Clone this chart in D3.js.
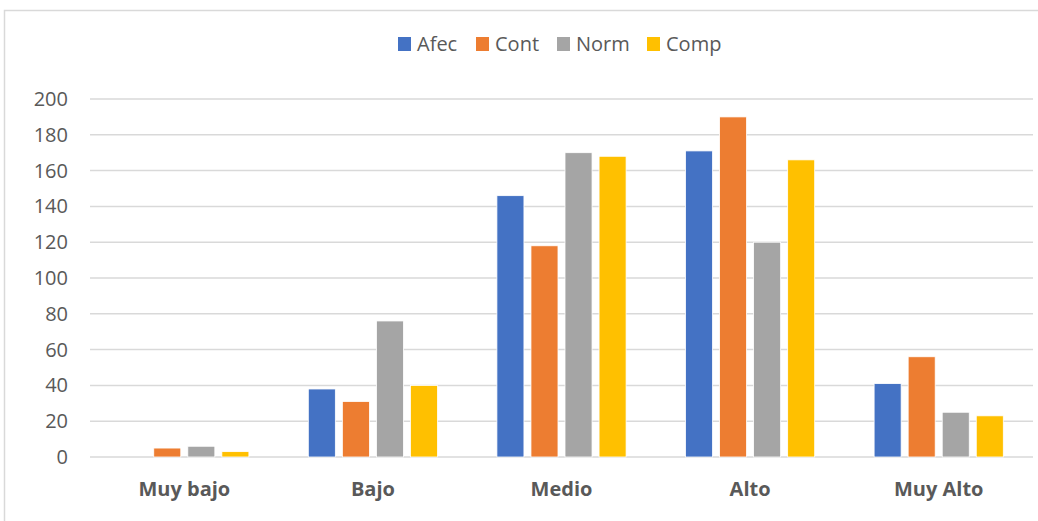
<!DOCTYPE html>
<html>
<head>
<meta charset="utf-8">
<script src="https://cdn.jsdelivr.net/npm/d3@7"></script>
<style>
  body { margin: 0; background: #fff; }
  svg text { font-family: "Open Sans", "Liberation Sans", sans-serif; fill: #595959; }
</style>
</head>
<body>
<div id="chart"></div>
<script>
// data
const categories = ["Muy bajo", "Bajo", "Medio", "Alto", "Muy Alto"];
const seriesNames = ["Afec", "Cont", "Norm", "Comp"];
const afec = [0, 38, 146, 171, 41];
const cont = [5, 31, 118, 190, 56];
const norm = [6, 76, 170, 120, 25];
const comp = [3, 40, 168, 166, 23];
const yTicks = [0, 20, 40, 60, 80, 100, 120, 140, 160, 180, 200];
const colors = ["#4472c4", "#ed7d31", "#a5a5a5", "#ffc000"];

const values = [afec, cont, norm, comp];

const width = 1038, height = 521;
const plot = { left: 90, right: 1033, top: 99, bottom: 457 };

const svg = d3.select("#chart").append("svg")
    .attr("width", width)
    .attr("height", height);

// outer chart frame
svg.append("rect")
    .attr("x", 4.5).attr("y", 10.5)
    .attr("width", width + 10).attr("height", height + 10)
    .attr("fill", "#fff")
    .attr("stroke", "#d9d9d9")
    .attr("stroke-width", 1.5);

let x0 = d3.scaleBand().domain(categories).range([plot.left, plot.right]).padding(0);
let groupW = x0.bandwidth() * 0.685;
let x1 = d3.scaleBand().domain(seriesNames).range([0, groupW]).paddingInner(0.206).paddingOuter(0);
let y = d3.scaleLinear().domain([0, 200]).range([plot.bottom, plot.top]);

// gridlines
svg.append("g").selectAll("line").data(yTicks).join("line")
    .attr("x1", plot.left).attr("x2", plot.right)
    .attr("y1", d => y(d)).attr("y2", d => y(d))
    .attr("stroke", "#d9d9d9")
    .attr("stroke-width", 1.5);

// y axis labels
let yAxis = svg.append("g").attr("transform", `translate(${plot.left - 22},0)`)
    .call(d3.axisLeft(y).tickValues(yTicks).tickSize(0).tickPadding(0));
yAxis.select(".domain").remove();
yAxis.selectAll("text").style("font-size", "20px").attr("fill", "#595959")
    .attr("font-family", "Open Sans, sans-serif");

// bars
let groups = svg.append("g").selectAll("g").data(categories).join("g")
    .attr("transform", d => `translate(${x0(d) + (x0.bandwidth() - groupW) / 2},0)`);

groups.selectAll("rect")
    .data((c, i) => seriesNames.map((s, j) => ({ s: s, v: values[j][i], c: colors[j] })))
    .join("rect")
    .attr("x", d => x1(d.s))
    .attr("y", d => y(d.v))
    .attr("width", x1.bandwidth())
    .attr("height", d => y(0) - y(d.v))
    .attr("fill", d => d.c)
    .attr("stroke", "#fff")
    .attr("stroke-width", 0.8)
    .style("display", d => d.v > 0 ? null : "none");

// x axis labels
let xAxis = svg.append("g").attr("transform", `translate(0,496)`)
    .call(d3.axisBottom(x0).tickSize(0).tickPadding(0));
xAxis.select(".domain").remove();
xAxis.selectAll("text")
    .attr("y", 0)
    .attr("dy", 0)
    .style("font-size", "20px")
    .style("font-weight", "bold")
    .attr("fill", "#595959")
    .attr("font-family", "Open Sans, sans-serif");

// legend
const legendX = [398, 476, 557, 647];
let legend = svg.append("g").selectAll("g").data(seriesNames).join("g")
    .attr("transform", (d, i) => `translate(${legendX[i]},44)`);
legend.append("rect")
    .attr("x", 0).attr("y", -7)
    .attr("width", 13).attr("height", 14)
    .attr("fill", (d, i) => colors[i]);
legend.append("text")
    .attr("x", 19).attr("y", 0)
    .attr("dy", "0.35em")
    .style("font-size", "20px")
    .text(d => d);
</script>
</body>
</html>
